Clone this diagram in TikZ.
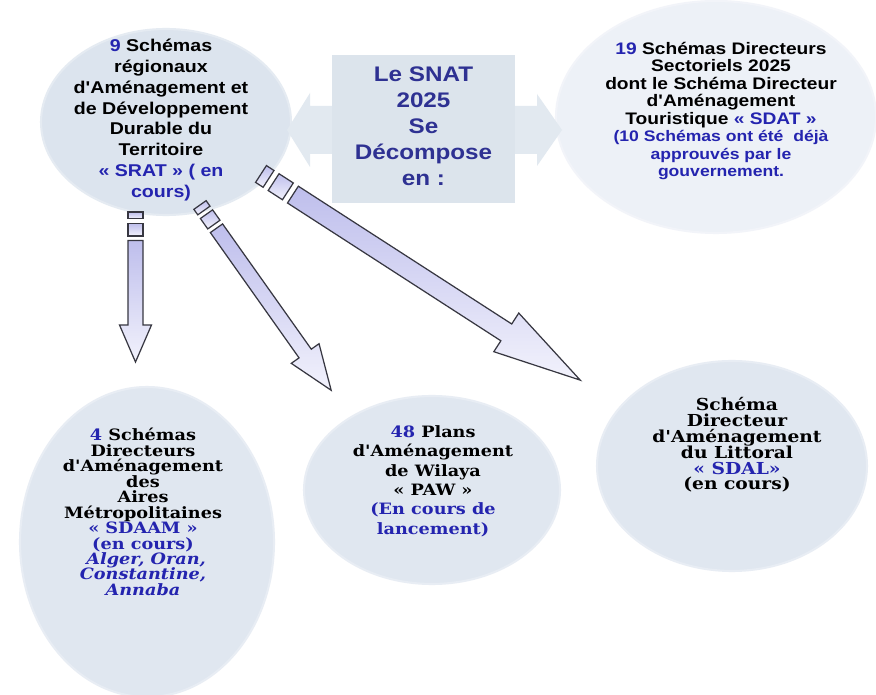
\documentclass[tikz,border=0pt]{standalone}
\usepackage{fontspec}
\newfontfamily\sanx{Liberation Sans}[FakeStretch=1.15]
\newfontfamily\serx{DejaVu Serif}[FakeStretch=1.13]
\usetikzlibrary{shapes.geometric}
\definecolor{ellfill}{RGB}{220,228,238}
\definecolor{ellfillB}{RGB}{224,231,240}
\definecolor{ellfillL}{RGB}{237,241,247}
\definecolor{boxfill}{RGB}{220,228,236}
\definecolor{darrfill}{RGB}{226,233,240}
\definecolor{navy}{RGB}{46,49,146}
\definecolor{bl}{RGB}{36,36,175}
\definecolor{lav}{RGB}{190,190,236}
\definecolor{lavlight}{RGB}{242,242,252}
\definecolor{arrline}{RGB}{55,55,65}
\lineskiplimit=-20pt
\tikzset{
  ell/.style={ellipse, inner sep=0pt, draw=#1!75!white, line width=1.2pt, fill=#1},
  txt/.style={align=center, inner sep=0pt},
  sansbig/.style={font=\sanx\bfseries\fontsize{12}{14.8}\selectfont, text=navy},
  sanstl/.style={font=\sanx\bfseries\fontsize{9.7}{11.8}\selectfont},
  sanstr/.style={font=\sanx\bfseries\fontsize{9.5}{10}\selectfont},
  serbot/.style={font=\serx\bfseries\fontsize{8.9}{#1}\selectfont},
  barr/.style={draw=arrline, line width=0.7pt, top color=lav, bottom color=lavlight},
  pics/barrow/.style n args={4}{code={
    \pgfmathsetmacro\hw{#2/2}
    \pgfmathsetmacro\ra{0.45*#2}
    \pgfmathsetmacro\rb{\ra+0.3*#2}
    \pgfmathsetmacro\rc{\rb+0.85*#2}
    \pgfmathsetmacro\sz{\rc+0.3*#2}
    \pgfmathsetmacro\hb{#1-#4}
    \pgfmathsetmacro\hh{#3/2}
    \path[barr] (0,-\hw) rectangle (\ra,\hw);
    \path[barr] (\rb,-\hw) rectangle (\rc,\hw);
    \path[barr] (\sz,-\hw) -- (\hb,-\hw) -- (\hb,-\hh) -- (#1,0) -- (\hb,\hh) -- (\hb,\hw) -- (\sz,\hw) -- cycle;
  }}
}
\begin{document}
\begin{tikzpicture}[x=0.02cm,y=-0.02cm]
\useasboundingbox (0,0) rectangle (876,695);
\fill[white] (0,0) rectangle (876,695);

% ellipses
\node[ell=ellfill, minimum width=5cm, minimum height=3.72cm] (srat) at (166,122) {};
\node[ell=ellfillL, minimum width=6.4cm, minimum height=4.64cm] (sdat) at (716,117) {};
\node[ell=ellfillB, minimum width=5.08cm, minimum height=6.2cm] (sdaam) at (147,542) {};
\node[ell=ellfillB, minimum width=5.12cm, minimum height=3.76cm] (paw) at (432,490) {};
\node[ell=ellfillB, minimum width=5.4cm, minimum height=4.2cm] (sdal) at (732,466) {};

% double arrow and central box
\path[fill=darrfill] (287,130) -- (310,93) -- (310,106) -- (537,106) -- (537,94) -- (562,130)
  -- (537,166) -- (537,154) -- (310,154) -- (310,167) -- cycle;
\node[fill=boxfill, minimum width=3.66cm, minimum height=2.96cm, inner sep=0pt] (snat) at (423.5,129) {};
\node[txt, sansbig] (snatt) at (423.5,126) {Le SNAT\\2025\\Se\\Décompose\\en :};

% texts
\node[txt, sanstl] (sratt) at (161,120) {\textcolor{bl}{9} Schémas\\régionaux\\d'Aménagement et\\de Développement\\Durable du\\Territoire\\\textcolor{bl}{« SRAT » ( en}\\\textcolor{bl}{cours)}};
\node[txt, sanstr] (sdatt) at (721,111) {\textcolor{bl}{19} Schémas Directeurs\\Sectoriels 2025\\dont le Schéma Directeur\\d'Aménagement\\Touristique \textcolor{bl}{« SDAT »}\\\textcolor{bl}{\fontsize{8.7}{10}\selectfont (10 Schémas ont été~~déjà}\\\textcolor{bl}{\fontsize{8.7}{10}\selectfont approuvés par le}\\\textcolor{bl}{\fontsize{8.7}{10}\selectfont gouvernement.}};
\node[txt, serbot=8.8] (sdaamt) at (143,512) {\textcolor{bl}{4} Schémas\\Directeurs\\d'Aménagement\\des\\Aires\\Métropolitaines\\\textcolor{bl}{« SDAAM »}\\\textcolor{bl}{(en cours)}\\\textcolor{bl}{\itshape ~Alger, Oran,}\\\textcolor{bl}{\itshape Constantine,}\\\textcolor{bl}{\itshape Annaba}};
\node[txt, serbot=11] (pawt) at (433,481) {\textcolor{bl}{48} Plans\\d'Aménagement\\de Wilaya\\« PAW »\\\textcolor{bl}{(En cours de}\\\textcolor{bl}{lancement)}};
\node[txt, font=\serx\bfseries\fontsize{9.4}{9}\selectfont] (sdalt) at (737,445) {Schéma\\Directeur\\d'Aménagement\\du Littoral\\\textcolor{bl}{« SDAL»}\\(en cours)};

% block arrows
\coordinate (a1s) at (135.5,212);
\coordinate (a2s) at (200,205);
\coordinate (a3s) at (261,174);
\pic[rotate=-90] at (a1s) {barrow={150}{15}{32}{37}};
\pic[rotate=-54.7] at (a2s) {barrow={227}{15}{34}{45}};
\pic[rotate=-32.85] at (a3s) {barrow={380}{20}{46}{88}};
\end{tikzpicture}
\end{document}
